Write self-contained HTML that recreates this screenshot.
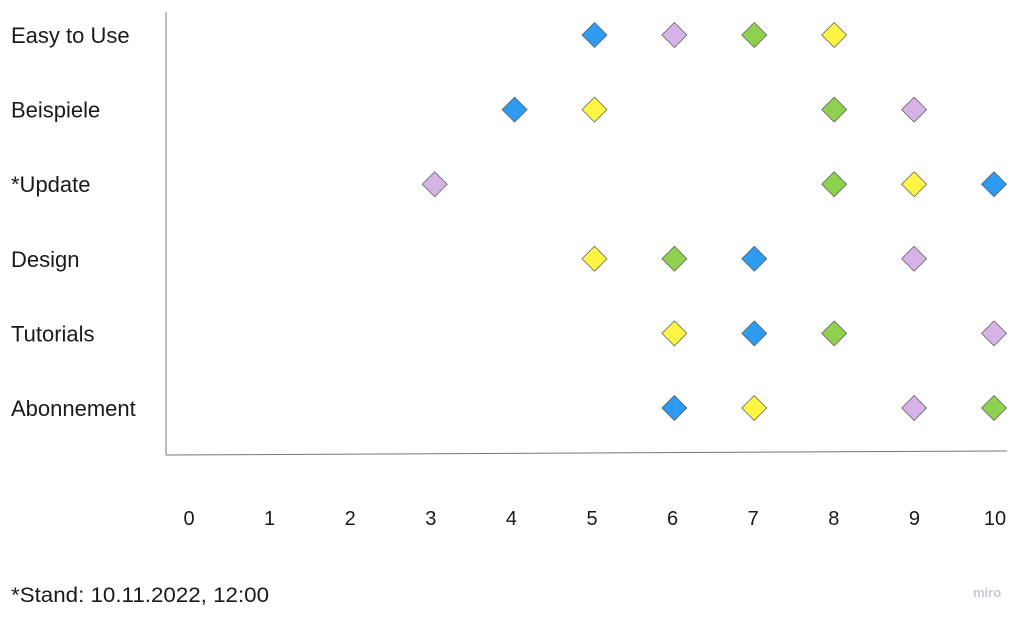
<!DOCTYPE html>
<html><head><meta charset="utf-8"><style>
html,body{margin:0;padding:0;background:#fff;width:1030px;height:621px;overflow:hidden;font-family:"Liberation Sans",sans-serif;}
</style></head><body>
<svg width="1030" height="621" xmlns="http://www.w3.org/2000/svg">
<g id="axes">
<line x1="166" y1="12" x2="166" y2="455" stroke="#777" stroke-width="1"/>
<line x1="166" y1="455" x2="1007" y2="451" stroke="#777" stroke-width="1"/>
</g>
<g id="labels"></g>
<g id="marks"></g>
<text x="11" y="602" font-size="21" fill="#1a1a1a" textLength="258" lengthAdjust="spacingAndGlyphs">*Stand: 10.11.2022, 12:00</text>
<text x="973" y="597" font-size="13" fill="#c8c8d0" font-weight="bold">miro</text>
</svg>
<script>
const categories=["Easy to Use","Beispiele","*Update","Design","Tutorials","Abonnement"];
const xTicks=[0,1,2,3,4,5,6,7,8,9,10];
const seriesNames=["blue","lavender","green","yellow"];
const blueVals=[5,4,10,7,7,6];
const lavenderVals=[6,9,3,9,10,9];
const greenVals=[7,8,8,6,8,10];
const yellowVals=[8,5,9,5,6,7];
const colors={blue:"#2d9bf0",lavender:"#d5b3e6",green:"#8fd14f",yellow:"#fef445"};
const NS="http://www.w3.org/2000/svg";
function xScale(v){return 195+79.9*v;}
function yScale(i){return 35+i*74.6;}
function tickX(v){return 189+80.6*v;}
const L=document.getElementById('labels'),M=document.getElementById('marks');
categories.forEach((c,i)=>{
 const t=document.createElementNS(NS,'text');
 t.setAttribute('x',11);t.setAttribute('y',yScale(i)+8);
 t.setAttribute('font-size','22');t.setAttribute('fill','#1a1a1a');
 t.textContent=c;
 
 
 L.appendChild(t);
});
xTicks.forEach(v=>{
 const t=document.createElementNS(NS,'text');
 t.setAttribute('x',tickX(v));t.setAttribute('y',525);
 t.setAttribute('font-size','20');t.setAttribute('fill','#1a1a1a');t.setAttribute('text-anchor','middle');
 t.textContent=v;
 
 
 L.appendChild(t);
});
const data={blue:blueVals,lavender:lavenderVals,green:greenVals,yellow:yellowVals};
seriesNames.forEach(s=>{
 data[s].forEach((v,i)=>{
  const x=xScale(v),y=yScale(i),r=12.5;
  const p=document.createElementNS(NS,'polygon');
  p.setAttribute('points',`${x},${y-r} ${x+r},${y} ${x},${y+r} ${x-r},${y}`);
  p.setAttribute('fill',colors[s]);p.setAttribute('stroke','#555');p.setAttribute('stroke-width','0.7');
  
  
  M.appendChild(p);
 });
});
</script>
</body></html>
